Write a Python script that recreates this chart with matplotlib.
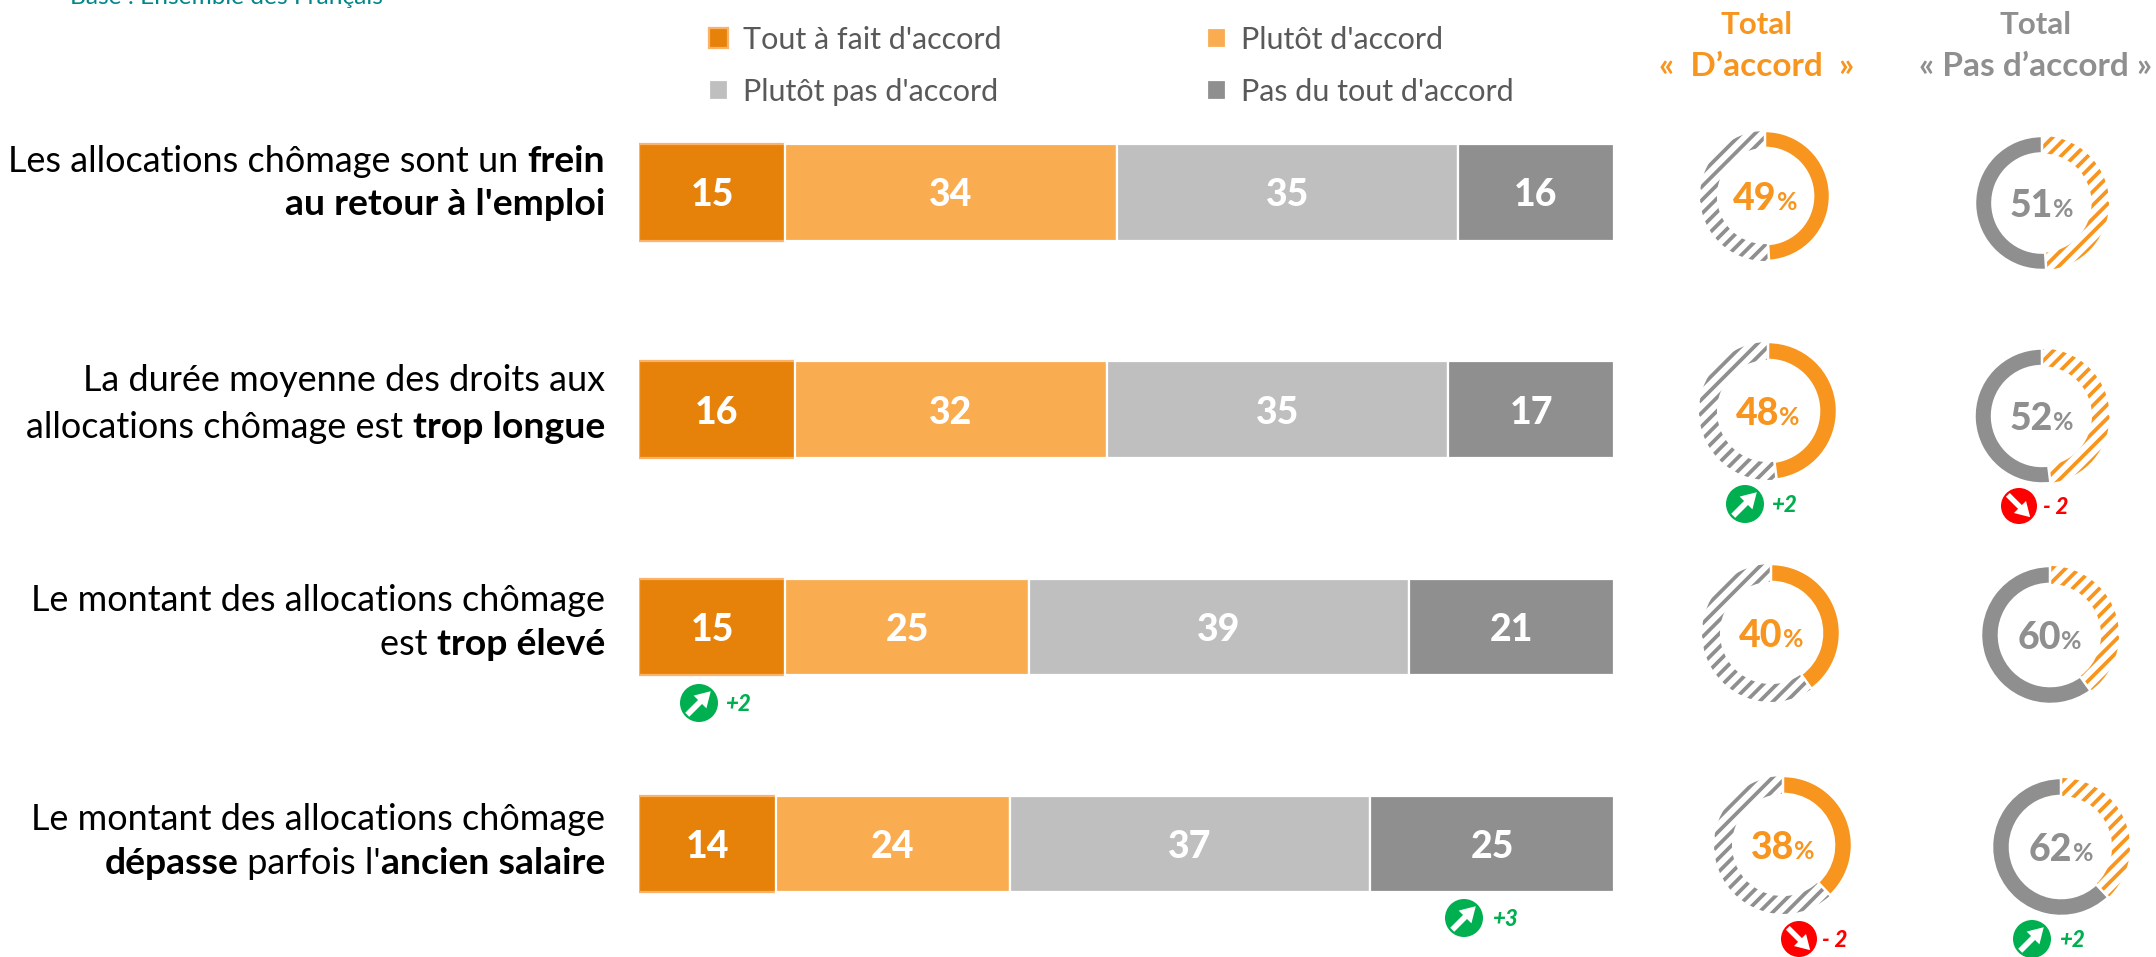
import matplotlib
matplotlib.use("Agg")
import matplotlib.pyplot as plt
from matplotlib.patches import Ellipse, FancyArrow

plt.rcParams['font.family'] = ['Lato', 'DejaVu Sans']

W, H = 2156, 957

# data
categories = ["Tout à fait d'accord", "Plutôt d'accord", "Plutôt pas d'accord", "Pas du tout d'accord"]
tout_accord = [15, 16, 15, 14]
plutot_accord = [34, 32, 25, 24]
plutot_pas = [35, 35, 39, 37]
pas_du_tout = [16, 17, 21, 25]
total_accord = [49, 48, 40, 38]
total_pas_accord = [51, 52, 60, 62]
row_labels = [
    [[("Les allocations chômage sont un ", "normal"), ("frein", "bold")],
     [("au retour à l'emploi", "bold")]],
    [[("La durée moyenne des droits aux", "normal")],
     [("allocations chômage est ", "normal"), ("trop longue", "bold")]],
    [[("Le montant des allocations chômage", "normal")],
     [("est ", "normal"), ("trop élevé", "bold")]],
    [[("Le montant des allocations chômage", "normal")],
     [("dépasse", "bold"), (" parfois l'", "normal"), ("ancien salaire", "bold")]],
]
evolutions = ["+2", "- 2", "+2", "+3", "- 2", "+2"]

# colours
c_dark = '#E6820A'
c_light = '#FAAC50'
c_lgrey = '#BFBFBF'
c_grey = '#8F8F8F'
c_orange = '#F7951E'
c_up = '#00B050'
c_down = '#FF0000'

fig = plt.figure(figsize=(W / 100, H / 100), dpi=100, facecolor='white')

# overlay in pixels for text and badges
over = fig.add_axes([0, 0, 1, 1])
over.set_xlim(0, W)
over.set_ylim(H, 0)
over.set_axis_off()


def draw_runs(x, y, runs, align='right'):
    # runs: (text, weight, size, colour) on a shared baseline
    r = fig.canvas.get_renderer()
    widths = []
    for t, wg, sz, col in runs:
        tmp = over.text(0, 0, t, fontweight=wg, fontsize=sz)
        widths.append(tmp.get_window_extent(r).width)
        tmp.remove()
    if align == 'right':
        pos = x - sum(widths)
    else:
        pos = x - sum(widths) / 2
    for (t, wg, sz, col), w in zip(runs, widths):
        over.text(pos, y, t, fontweight=wg, fontsize=sz, color=col, ha='left', va='baseline')
        pos += w


# stacked bars
bar_x0, bar_x1 = 639, 1614
row_top, row_step = 192.5, 217.2
ax_top = row_top - row_step / 2
ax_h = row_step * 4
ax = fig.add_axes([bar_x0 / W, 1 - (ax_top + ax_h) / H, (bar_x1 - bar_x0) / W, ax_h / H])
ax.set_xlim(0, 100)
ax.set_ylim(3.5, -0.5)
ax.set_axis_off()
rows = list(range(len(tout_accord)))
left = [0, 0, 0, 0]
series = [tout_accord, plutot_accord, plutot_pas, pas_du_tout]
colors = [c_dark, c_light, c_lgrey, c_grey]
edges = ['#FBB36A', 'white', 'white', 'white']
conts = []
for vals, col, ed, name in zip(series, colors, edges, categories):
    bc = ax.barh(rows, vals, left=left, height=0.445, color=col, edgecolor=ed, linewidth=1.6, label=name)
    labs = ax.bar_label(bc, label_type='center', color='white', fontweight='black', fontsize=27)
    for lb in labs:
        lb.set_va('center_baseline')
    conts.append(bc)
    left = [a + b for a, b in zip(left, vals)]

# legend, filled column by column
order = [0, 2, 1, 3]
leg = over.legend([conts[i] for i in order], [categories[i] for i in order], ncols=2, frameon=False,
                  loc='upper left', bbox_to_anchor=(709 / W, 1 - 26 / H), bbox_transform=fig.transFigure,
                  fontsize=22, labelcolor='#595959', handlelength=0.62, handleheight=0.62,
                  handletextpad=0.48, labelspacing=0.78, columnspacing=6.75, borderpad=0, borderaxespad=0)

# category labels, right aligned next to the bars
label_y = [172, 215, 391, 438, 611, 655, 830, 874]
i = 0
for lines in row_labels:
    for runs in lines:
        draw_runs(605, label_y[i], [(t, wg, 26.9 if wg == "bold" else 25.9, 'black') for t, wg in runs])
        i += 1

# column headers
draw_runs(1757, 34, [("Total", "bold", 22.5, c_orange)], 'center')
draw_runs(1757, 76, [("«  D’accord  »", "bold", 24, c_orange)], 'center')
draw_runs(2036, 34, [("Total", "bold", 22.5, c_grey)], 'center')
draw_runs(2036, 76, [("« Pas d’accord »", "bold", 24, c_grey)], 'center')

# base line, cut by the top of the picture
over.text(70, 4, "Base : Ensemble des Français", color='#00858A', fontsize=17.6, ha='left', va='baseline')


def donut(cx, cy, r, val, main, other, cw):
    a = fig.add_axes([(cx - r) / W, 1 - (cy + r) / H, 2 * r / W, 2 * r / H])
    wedges, _ = a.pie([val, 100 - val], startangle=90, counterclock=not cw, radius=1,
                      wedgeprops=dict(width=0.26), colors=[main, 'white'])
    a.set_xlim(-1, 1)
    a.set_ylim(-1, 1)
    wedges[0].set_edgecolor('white')
    wedges[0].set_linewidth(1.8)
    wedges[0].set_zorder(3)
    wedges[1].set_linewidth(0)
    # stripes clipped to the other part of the ring, the built in hatches are too tight
    step = 13.5 / r
    c = -2.0
    while c < 2.0:
        ln, = a.plot([-1, 1], [-1 + c, 1 + c], color=other, lw=2.7, solid_capstyle='butt', zorder=2)
        ln.set_clip_path(wedges[1])
        c += step
    a.set_xlim(-1, 1)
    a.set_ylim(-1, 1)
    draw_runs(cx, cy + 14, [(str(val), "black", 27, main), ("%", "bold", 18, main)], 'center')


left_pos = [(1765, 196, 65), (1768, 411, 69), (1771, 633, 69), (1783, 845, 69)]
right_pos = [(2042, 203, 67), (2042, 416, 67.5), (2050, 635, 69), (2061, 847, 69)]
for v, (cx, cy, r) in zip(total_accord, left_pos):
    donut(cx, cy, r, v, c_orange, c_grey, True)
for v, (cx, cy, r) in zip(total_pas_accord, right_pos):
    donut(cx, cy, r, v, c_grey, c_orange, False)


def badge(cx, cy, rad, text, tx):
    up = text.startswith('+')
    col = c_up if up else c_down
    over.add_patch(Ellipse((cx, cy), 2 * rad, 2 * rad, color=col, lw=0))
    s = 0.62 * rad
    dy = -s if up else s
    over.add_patch(FancyArrow(cx - s, cy - dy, 2 * s, 2 * dy, width=0.3 * rad, head_width=0.95 * rad,
                              head_length=0.8 * rad, length_includes_head=True, color='white', lw=0))
    over.text(tx, cy + 8, text, color=col, fontsize=16, fontweight='black', fontstyle='italic',
              ha='left', va='baseline')


badge_pos = [(1745, 504, 19, 1771), (2019, 506, 18, 2043), (699, 703, 19, 725),
             (1464, 918, 19, 1492), (1799, 939, 18, 1822), (2032, 939, 19, 2059)]
for txt, (cx, cy, rad, tx) in zip(evolutions, badge_pos):
    badge(cx, cy, rad, txt, tx)

fig.savefig('out.png', dpi=100)
